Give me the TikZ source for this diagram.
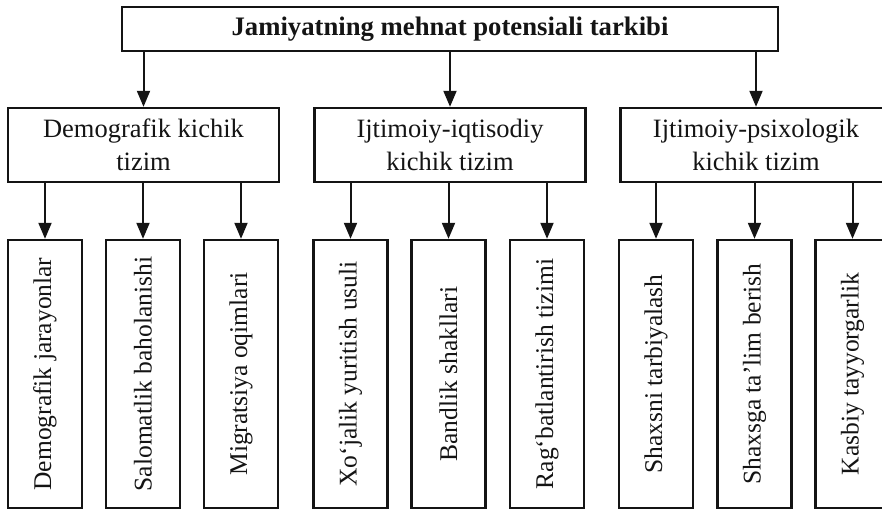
\documentclass[tikz,border=0pt]{standalone}
\usepackage{fontspec}
\setmainfont{Liberation Serif}
\usetikzlibrary{arrows.meta}
\definecolor{cEdge}{RGB}{20,20,20}

\begin{document}
\begin{tikzpicture}[
  x=1pt, y=-1pt, color=cEdge,
  font=\fontsize{26.5}{33}\selectfont,
  box/.style ={draw, line width=2.4pt, align=center, inner sep=0pt, text=cEdge},
  head/.style={box, minimum width=656pt, minimum height=44pt,
               font=\fontsize{26.7}{33}\selectfont\bfseries},
  sub/.style ={box, minimum width=271pt, minimum height=74pt},
  leaf/.style={box, minimum width=74pt, minimum height=268pt,
               font=\fontsize{25.5}{31}\selectfont},
  arr/.style ={-{Triangle[length=16pt,width=13pt]}, line width=2pt},
]
\useasboundingbox (0,0) rectangle (882,510);
\clip (0,0) rectangle (882,510);

% rows: 29 / 145 / 374
\node[head] (top) at (450,29) {Jamiyatning mehnat potensiali tarkibi};

\node[sub] (dem) at (143.5,145) {Demografik kichik\\tizim};
\node[sub] (iqt) at (450,145)   {Ijtimoiy-iqtisodiy\\kichik tizim};
\node[sub] (psx) at (756,145)   {Ijtimoiy-psixologik\\kichik tizim};

\node[leaf] (jar) at (45,374)    {\rotatebox{90}{Demografik jarayonlar}};
\node[leaf] (sal) at (143,374)   {\rotatebox{90}{Salomatlik baholanishi}};
\node[leaf] (mig) at (241,374)   {\rotatebox{90}{Migratsiya oqimlari}};
\node[leaf] (xoj) at (350.5,374) {\rotatebox{90}{Xo‘jalik yuritish usuli}};
\node[leaf] (ban) at (448.5,374) {\rotatebox{90}{Bandlik shakllari}};
\node[leaf] (rag) at (547,374)   {\rotatebox{90}{Rag‘batlantirish tizimi}};
\node[leaf] (tar) at (656,374)   {\rotatebox{90}{Shaxsni tarbiyalash}};
\node[leaf] (tal) at (754.5,374) {\rotatebox{90}{Shaxsga ta’lim berish}};
\node[leaf] (kas) at (852.5,374) {\rotatebox{90}{Kasbiy tayyorgarlik}};

% ----- head to the three subsystems --------------------------------------
\draw[arr] (top.south -| dem.north) -- (dem.north);
\draw[arr] (top.south -| iqt.north) -- (iqt.north);
\draw[arr] (top.south -| psx.north) -- (psx.north);

% ----- subsystems to their parts -----------------------------------------
\draw[arr] (dem.south -| jar.north) -- (jar.north);
\draw[arr] (dem.south -| sal.north) -- (sal.north);
\draw[arr] (dem.south -| mig.north) -- (mig.north);

\draw[arr] (iqt.south -| xoj.north) -- (xoj.north);
\draw[arr] (iqt.south -| ban.north) -- (ban.north);
\draw[arr] (iqt.south -| rag.north) -- (rag.north);

\draw[arr] (psx.south -| tar.north) -- (tar.north);
\draw[arr] (psx.south -| tal.north) -- (tal.north);
\draw[arr] (psx.south -| kas.north) -- (kas.north);

\end{tikzpicture}
\end{document}
